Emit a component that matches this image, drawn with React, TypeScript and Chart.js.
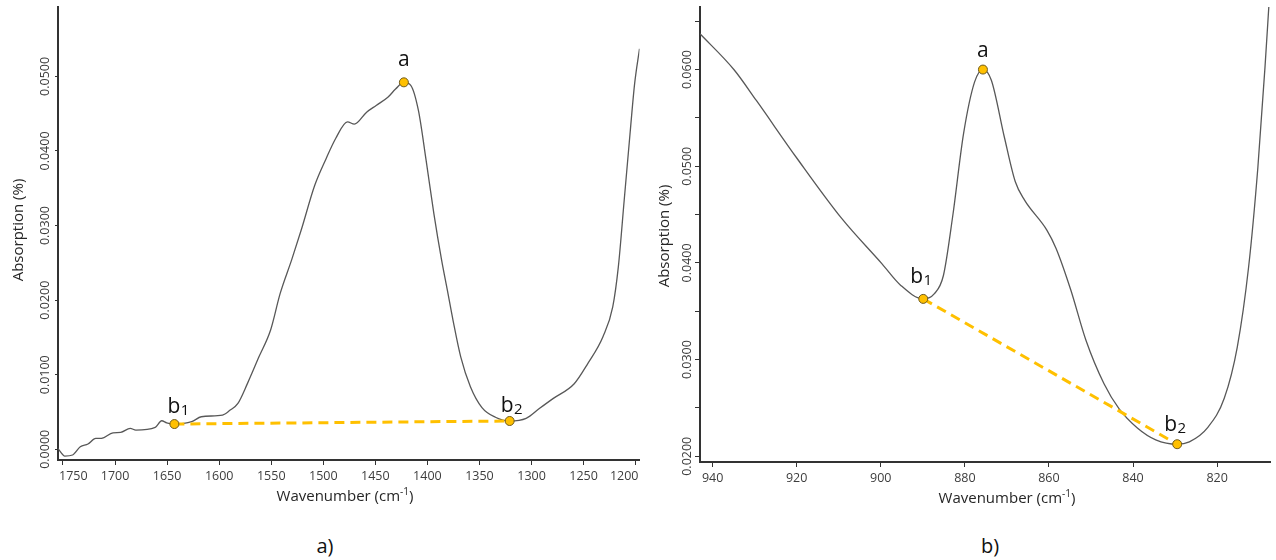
import { useEffect, useRef } from "react";
import { Chart, registerables } from "chart.js";

Chart.register(...registerables);

const FONT = '"Open Sans", "Noto Sans", sans-serif';
const TICK_COLOR = "#3d3d3d";
const AXIS_COLOR = "#333333";
const SPECTRUM_COLOR = "#585858";
const BASELINE_COLOR = "#FFC000";

// ---- a) carbonate/carboxylate band, 1200–1750 cm-1 ----
const wavenumberA = [
  1754.8, 1748.2, 1740.8, 1733.4, 1726, 1718.6, 1713.1, 1702, 1694.6, 1685.4,
  1680, 1661.4, 1655.2, 1650.4, 1643, 1626.4, 1617.2, 1596.8, 1589.4, 1582,
  1572.8, 1561.8, 1550.6, 1541.4, 1530.4, 1521.2, 1508.2, 1497.2, 1488, 1476.8,
  1470.2, 1458.4, 1449.2, 1438, 1430.6, 1422.6, 1416, 1408.6, 1401.2, 1393.8,
  1386.4, 1380.8, 1375.4, 1368, 1358.7, 1347.6, 1334.7, 1321, 1305.2, 1292.2,
  1279.4, 1259, 1246, 1231.4, 1222, 1216.6, 1211, 1205.4, 1201, 1196.3,
];
const absorptionA = [
  0.0001, -0.0009, -0.00076, 0.00035, 0.00071, 0.00147, 0.00147, 0.00222, 0.00228, 0.00281,
  0.00258, 0.00294, 0.00383, 0.00356, 0.00339, 0.0037, 0.00437, 0.00459, 0.00526, 0.00616,
  0.00884, 0.0124, 0.016, 0.0209, 0.0254, 0.0294, 0.0354, 0.039, 0.0417, 0.0439,
  0.0436, 0.0452, 0.0461, 0.0472, 0.0483, 0.0492, 0.0488, 0.0454, 0.0387, 0.0316,
  0.0254, 0.0213, 0.0173, 0.0124, 0.0084, 0.0056, 0.0043, 0.0038, 0.00415, 0.0055,
  0.0068, 0.0088, 0.0115, 0.0151, 0.0191, 0.0245, 0.0334, 0.0423, 0.049, 0.0537,
];
// marked points: b1, a, b2
const markerWavenumberA = [1643, 1422.6, 1321];
const markerAbsorptionA = [0.00339, 0.0492, 0.0038];
const markerNameA = ["b", "a", "b"];
const markerIndexA = ["1", "", "2"];
const xTicksA = [1750, 1700, 1650, 1600, 1550, 1500, 1450, 1400, 1350, 1300, 1250, 1200];
const yTicksA = [0.0, 0.01, 0.02, 0.03, 0.04, 0.05];

// ---- b) out-of-plane band, 810–940 cm-1 ----
const wavenumberB = [
  943, 934.9, 929.6, 919.9, 909.3, 899.7, 895.3, 889.9, 887.3, 885.1,
  882.9, 880.3, 877.7, 875.7, 873.7, 870.6, 868, 865.8, 860.5, 858.3,
  854.8, 851.2, 846.9, 843.3, 838.9, 834.6, 829.5, 826.6, 822.2, 818.3,
  815.2, 812.5, 810.3, 808.6, 807.6,
];
const absorptionB = [
  0.0637, 0.05998, 0.0568, 0.0508, 0.0446, 0.0399, 0.0377, 0.03628, 0.0368, 0.0387,
  0.0448, 0.0534, 0.0587, 0.06, 0.0589, 0.053, 0.0484, 0.0465, 0.0434, 0.0415,
  0.0372, 0.032, 0.0275, 0.0249, 0.0229, 0.0217, 0.02125, 0.0215, 0.023, 0.026,
  0.0313, 0.0396, 0.0499, 0.0603, 0.0672,
];
const markerWavenumberB = [889.9, 875.7, 829.5];
const markerAbsorptionB = [0.03628, 0.06, 0.02125];
const markerNameB = ["b", "a", "b"];
const markerIndexB = ["1", "", "2"];
const xTicksB = [940, 920, 900, 880, 860, 840, 820];
const yTickMarksB = [0.02, 0.025, 0.03, 0.035, 0.04, 0.045, 0.05, 0.055, 0.06, 0.065];
const yTicksB = [0.02, 0.03, 0.04, 0.05, 0.06];

type Panel = {
  wn: number[];
  ab: number[];
  mWn: number[];
  mAb: number[];
  mName: string[];
  mIdx: string[];
  xTicks: number[];
  yMarks: number[];
  yLabels: number[];
  xMin: number;
  xMax: number;
  yMin: number;
  yMax: number;
  yWidth: number;
  xHeight: number;
  padRight: number;
  yTickLen: number;
  yTitleX: number;
  yTitleY: number;
  xTitleX: number;
  labelOffsets: number[][];
};

const drawText = {
  id: "spectrumText",
  afterDraw(chart: any, _args: any, opts: any) {
    const p: Panel = opts.panel;
    if (!p) return;
    const { ctx, chartArea } = chart;
    const xs = chart.scales.x;
    const ys = chart.scales.y;
    ctx.save();

    // y tick labels, rotated
    ctx.fillStyle = TICK_COLOR;
    ctx.font = `12.5px ${FONT}`;
    ctx.textAlign = "center";
    ctx.textBaseline = "middle";
    for (const v of p.yLabels) {
      const py = ys.getPixelForValue(v);
      ctx.save();
      ctx.translate(chartArea.left - 13, py);
      ctx.rotate(-Math.PI / 2);
      ctx.fillText(v.toFixed(4), 0, 0);
      ctx.restore();
    }

    // x tick labels, kept inside the axis span
    for (const v of p.xTicks) {
      const txt = String(v);
      const w = ctx.measureText(txt).width;
      let px = xs.getPixelForValue(v);
      px = Math.max(chartArea.left + w / 2 + 1, Math.min(chartArea.right - w / 2 - 1, px));
      ctx.fillText(txt, px, chartArea.bottom + 16);
    }

    // axis titles
    ctx.fillStyle = "#262626";
    ctx.font = `15px ${FONT}`;
    ctx.save();
    ctx.translate(p.yTitleX, p.yTitleY);
    ctx.rotate(-Math.PI / 2);
    ctx.fillText("Absorption (%)", 0, 0);
    ctx.restore();

    const t1 = "Wavenumber (cm";
    const t2 = "-1";
    const t3 = ")";
    ctx.font = `15px ${FONT}`;
    const w1 = ctx.measureText(t1).width;
    const w3 = ctx.measureText(t3).width;
    ctx.font = `10px ${FONT}`;
    const w2 = ctx.measureText(t2).width;
    const total = w1 + w2 + w3;
    let sx = p.xTitleX - total / 2;
    const ty = chartArea.bottom + 37;
    ctx.textAlign = "left";
    ctx.font = `15px ${FONT}`;
    ctx.fillText(t1, sx, ty);
    sx += w1;
    ctx.font = `10px ${FONT}`;
    ctx.fillText(t2, sx, ty - 5);
    sx += w2;
    ctx.font = `15px ${FONT}`;
    ctx.fillText(t3, sx, ty);

    // point names
    ctx.fillStyle = "#111111";
    ctx.textBaseline = "alphabetic";
    p.mWn.forEach((wn, i) => {
      const px = xs.getPixelForValue(wn);
      const py = ys.getPixelForValue(p.mAb[i]);
      const [dx, dy] = p.labelOffsets[i];
      ctx.font = `21px ${FONT}`;
      if (!p.mIdx[i]) {
        ctx.textAlign = "center";
        ctx.fillText(p.mName[i], px + dx, py + dy);
      } else {
        ctx.textAlign = "left";
        ctx.fillText(p.mName[i], px + dx, py + dy);
        const bw = ctx.measureText(p.mName[i]).width;
        ctx.font = `15px ${FONT}`;
        ctx.fillText(p.mIdx[i], px + dx + bw + 0.5, py + dy + 2);
      }
    });
    ctx.restore();
  },
};

function buildConfig(p: Panel): any {
  const spectrum = p.wn.map((x, i) => ({ x, y: p.ab[i] }));
  const markers = p.mWn.map((x, i) => ({ x, y: p.mAb[i] }));
  const baseline = [markers[0], markers[2]];
  return {
    type: "scatter",
    data: {
      datasets: [
        {
          data: markers,
          showLine: false,
          pointRadius: 4.5,
          pointBackgroundColor: BASELINE_COLOR,
          pointBorderColor: "#6e5a1e",
          pointBorderWidth: 1,
        },
        {
          data: baseline,
          showLine: true,
          borderColor: BASELINE_COLOR,
          borderWidth: 3,
          borderDash: [10, 6],
          pointRadius: 0,
          fill: false,
        },
        {
          data: spectrum,
          showLine: true,
          borderColor: SPECTRUM_COLOR,
          borderWidth: 1.3,
          pointRadius: 0,
          cubicInterpolationMode: "monotone",
          fill: false,
        },
      ],
    },
    options: {
      animation: false,
      responsive: false,
      devicePixelRatio: 1,
      events: [],
      layout: { padding: { top: 7, right: p.padRight, left: 0, bottom: 0 } },
      plugins: {
        legend: { display: false },
        tooltip: { enabled: false },
        spectrumText: { panel: p },
      },
      scales: {
        x: {
          type: "linear",
          reverse: true,
          min: p.xMin,
          max: p.xMax,
          afterBuildTicks: (s: any) => {
            s.ticks = p.xTicks.map((value) => ({ value }));
          },
          afterFit: (s: any) => {
            s.height = p.xHeight;
          },
          ticks: { display: false },
          grid: { display: true, drawOnChartArea: false, drawTicks: true, tickLength: 5, color: AXIS_COLOR, lineWidth: 1 },
          border: { display: true, color: AXIS_COLOR, width: 2 },
        },
        y: {
          type: "linear",
          min: p.yMin,
          max: p.yMax,
          afterBuildTicks: (s: any) => {
            s.ticks = p.yMarks.map((value) => ({ value }));
          },
          afterFit: (s: any) => {
            s.width = p.yWidth;
          },
          ticks: { display: false },
          grid: { display: true, drawOnChartArea: false, drawTicks: true, tickLength: p.yTickLen, color: AXIS_COLOR, lineWidth: 1 },
          border: { display: true, color: AXIS_COLOR, width: 2 },
        },
      },
    },
    plugins: [drawText],
  };
}

const panelA: Panel = {
  wn: wavenumberA,
  ab: absorptionA,
  mWn: markerWavenumberA,
  mAb: markerAbsorptionA,
  mName: markerNameA,
  mIdx: markerIndexA,
  xTicks: xTicksA,
  yMarks: yTicksA,
  yLabels: yTicksA,
  xMin: 1196.3,
  xMax: 1754.8,
  yMin: -0.00143,
  yMax: 0.0593,
  yWidth: 58,
  xHeight: 60,
  padRight: 5,
  yTickLen: 3,
  yTitleX: 19,
  yTitleY: 230,
  xTitleX: 345,
  labelOffsets: [[-7, -11], [0, -16], [-9, -9]],
};

const panelB: Panel = {
  wn: wavenumberB,
  ab: absorptionB,
  mWn: markerWavenumberB,
  mAb: markerAbsorptionB,
  mName: markerNameB,
  mIdx: markerIndexB,
  xTicks: xTicksB,
  yMarks: yTickMarksB,
  yLabels: yTicksB,
  xMin: 807.3,
  xMax: 943,
  yMin: 0.01941,
  yMax: 0.06647,
  yWidth: 55,
  xHeight: 58,
  padRight: 0,
  yTickLen: 5,
  yTitleX: 20,
  yTitleY: 236,
  xTitleX: 362,
  labelOffsets: [[-13, -16], [0, -13], [-13, -13]],
};

function SpectrumPanel({ panel, left, width }: { panel: Panel; left: number; width: number }) {
  const ref = useRef<HTMLCanvasElement | null>(null);
  useEffect(() => {
    if (!ref.current) return;
    const chart = new Chart(ref.current, buildConfig(panel));
    return () => chart.destroy();
  }, [panel]);
  return (
    <canvas
      ref={ref}
      width={width}
      height={520}
      style={{ position: "absolute", left, top: 0, width, height: 520 }}
    />
  );
}

export default function App() {
  const caption = {
    position: "absolute" as const,
    top: 546,
    transform: "translate(-50%, -50%)",
    fontFamily: FONT,
    fontSize: 20,
    color: "#111",
    lineHeight: 1,
  };
  return (
    <div style={{ position: "fixed", left: 0, top: 0, width: 1276, height: 560, background: "#fff", overflow: "hidden" }}>
      <SpectrumPanel panel={panelA} left={0} width={645} />
      <SpectrumPanel panel={panelB} left={645} width={631} />
      <div style={{ ...caption, left: 325 }}>a)</div>
      <div style={{ ...caption, left: 990 }}>b)</div>
    </div>
  );
}
